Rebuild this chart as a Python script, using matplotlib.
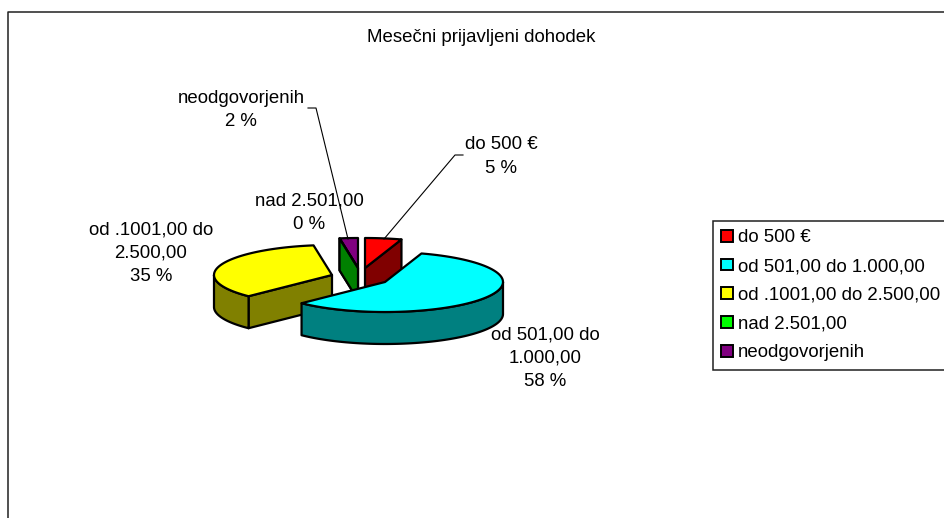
# -*- coding: utf-8 -*-
import numpy as np
import matplotlib
matplotlib.use('Agg')
import matplotlib.pyplot as plt
from matplotlib.patches import Polygon, Patch

plt.rcParams['font.family'] = ['Liberation Sans', 'DejaVu Sans']

categories = ['do 500 €', 'od 501,00 do 1.000,00', 'od .1001,00 do 2.500,00',
              'nad 2.501,00', 'neodgovorjenih']
values = [5.0, 57.5, 35.0, 0.0, 2.5]
percent_labels = ['5 %', '58 %', '35 %', '0 %', '2 %']
title = 'Mesečni prijavljeni dohodek'

top_colors = ['#ff0000', '#00ffff', '#ffff00', '#00ff00', '#800080']
side_colors = ['#800000', '#008080', '#808000', '#008000', '#400040']

# apex of every exploded slice, pixels of the picture
apex = [(365, 268), (385, 282), (332, 275), (358, 268), (358, 268)]
draw_order = [0, 4, 3, 2, 1]
rx, ry, depth = 118, 30, 32
lw = 1.6
fs = 13.4

fig = plt.figure(figsize=(9.45, 5.18), dpi=100)
ax = fig.add_axes([0, 0, 1, 1])
ax.set_xlim(0, 945)
ax.set_ylim(518, 0)
ax.axis('off')

# outer frame, cut by the right and the bottom edge
ax.plot([8, 8, 945], [518, 11.5, 11.5], color='#202020', lw=1.1, zorder=1)


def rim(i, t):
    t = np.radians(t)
    return apex[i][0] + rx * np.cos(t), apex[i][1] - ry * np.sin(t)


def face(points, color, z):
    ax.add_patch(Polygon(points, closed=True, facecolor=color, edgecolor='black',
                         lw=lw, joinstyle='round', zorder=z))


# slices clockwise from the top
ends = 90 - np.cumsum(values) * 3.6
starts = np.concatenate([[90], ends[:-1]])

for z, i in enumerate(draw_order):
    t0, t1 = starts[i], ends[i]
    ax0, ay0 = apex[i]
    zz = 2 + z

    # cut faces that look towards the viewer
    if np.cos(np.radians(t0)) < -1e-9:
        x, y = rim(i, t0)
        face([(ax0, ay0), (x, y), (x, y + depth), (ax0, ay0 + depth)], side_colors[i], zz)
    if np.cos(np.radians(t1)) > 1e-9:
        x, y = rim(i, t1)
        face([(ax0, ay0), (x, y), (x, y + depth), (ax0, ay0 + depth)], side_colors[i], zz)

    # outer wall, only the front half of the rim
    for lo, hi in ((max(t1, -180), min(t0, 0)), (max(t1, -540), min(t0, -360))):
        if hi > lo:
            ts = np.linspace(hi, lo, 80)
            xs, ys = rim(i, ts)
            wall = list(zip(xs, ys)) + list(zip(xs[::-1], ys[::-1] + depth))
            face(wall, side_colors[i], zz)

    # top of the slice
    ts = np.linspace(t0, t1, 80)
    xs, ys = rim(i, ts)
    face([(ax0, ay0)] + list(zip(xs, ys)), top_colors[i], zz)

# data labels
label_pos = [(501, 156.5), (545, 358), (151, 253.5), (309, 213), (241, 110)]
label_text = ['do 500 €', 'od 501,00 do\n1.000,00', 'od .1001,00 do\n2.500,00',
              'nad 2.501,00', 'neodgovorjenih']
for (x, y), txt, pct in zip(label_pos, label_text, percent_labels):
    ax.text(x, y, txt + '\n' + pct, ha='center', va='center', fontsize=fs,
            linespacing=1.49, color='black', zorder=20)

# leader lines
ax.plot([463, 455, 384], [155, 155, 239], color='black', lw=0.8, zorder=21)
ax.plot([308, 316, 348], [108, 108, 239], color='black', lw=0.8, zorder=21)

ax.text(481.5, 38, title, ha='center', va='center', fontsize=fs, color='black')

handles = [Patch(facecolor=c, edgecolor='black', lw=1.4) for c in top_colors]
leg = ax.legend(handles, categories, loc='upper left',
                bbox_to_anchor=(713 / 945, 1 - 221 / 518), fontsize=fs,
                frameon=True, fancybox=False, edgecolor='#202020', framealpha=1,
                handlelength=0.6, handleheight=0.6, handletextpad=0.27,
                labelspacing=0.63, borderpad=0.45, borderaxespad=0)
leg.get_frame().set_linewidth(1.1)
leg.set_zorder(30)

fig.savefig('out.png', dpi=100)
